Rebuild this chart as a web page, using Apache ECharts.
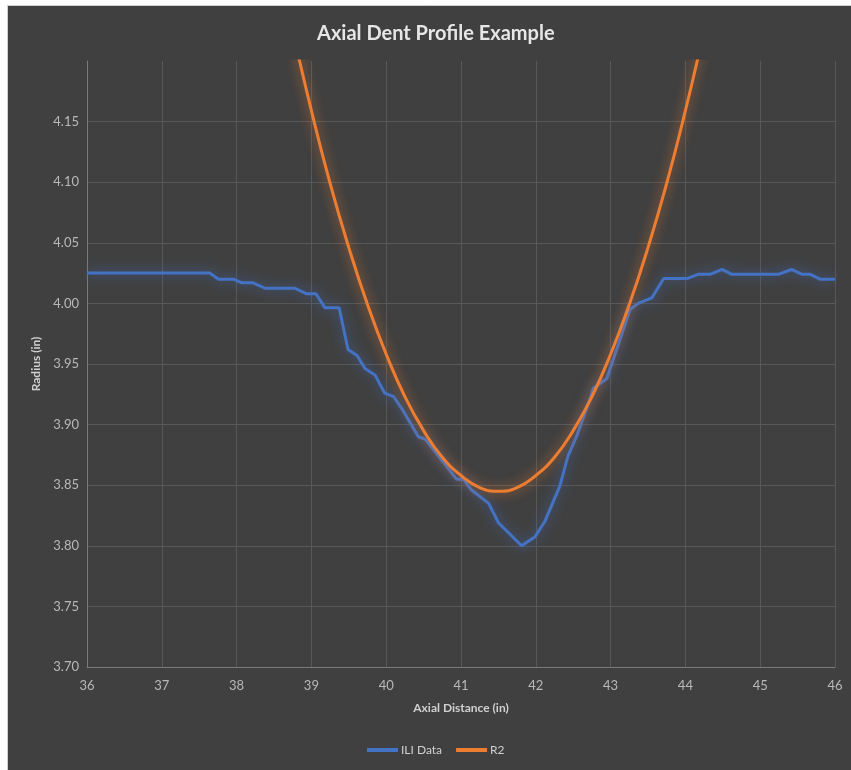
<!DOCTYPE html>
<html>
<head>
<meta charset="utf-8">
<title>Axial Dent Profile Example</title>
<script src="https://cdn.jsdelivr.net/npm/echarts@6/dist/echarts.min.js"></script>
<style>
  html, body { margin: 0; padding: 0; background: #ffffff; }
  #chart { width: 851px; height: 770px; }
</style>
</head>
<body>
<div id="chart"></div>
<script>
// Axis ticks
const xTicks = [36, 37, 38, 39, 40, 41, 42, 43, 44, 45, 46];
const yTicks = [3.70, 3.75, 3.80, 3.85, 3.90, 3.95, 4.00, 4.05, 4.10, 4.15];

// ILI measured profile: axial distance (in) and radius (in)
const iliX = [36.00, 37.64, 37.76, 37.96, 38.07, 38.22, 38.38, 38.78, 38.93, 39.06,
              39.18, 39.37, 39.49, 39.61, 39.72, 39.85, 39.98, 40.10, 40.21, 40.43,
              40.52, 40.94, 41.03, 41.14, 41.37, 41.50, 41.81, 41.99, 42.12, 42.32,
              42.43, 42.55, 42.73, 42.77, 42.95, 43.26, 43.37, 43.55, 43.71, 44.02,
              44.17, 44.33, 44.49, 44.62, 45.24, 45.42, 45.56, 45.67, 45.80, 46.00];
const iliY = [4.025, 4.025, 4.020, 4.020, 4.017, 4.017, 4.0125, 4.0125, 4.008, 4.008,
              3.9965, 3.9965, 3.962, 3.957, 3.946, 3.941, 3.926, 3.923, 3.913, 3.890,
              3.888, 3.855, 3.855, 3.846, 3.835, 3.819, 3.800, 3.8075, 3.820, 3.849,
              3.874, 3.891, 3.922, 3.930, 3.938, 3.995, 4.000, 4.0045, 4.0205, 4.0205,
              4.024, 4.024, 4.028, 4.024, 4.024, 4.028, 4.024, 4.024, 4.020, 4.020];

// R2 fitted curve: axial distance (in) and radius (in)
const r2X = [38.75, 39.00, 39.25, 39.50, 39.75, 40.00, 40.25, 40.50, 40.75, 41.00, 41.25, 41.50,
             41.75, 42.00, 42.25, 42.50, 42.75, 43.00, 43.25, 43.50, 43.75, 44.00, 44.25];
const r2Y = [4.225, 4.159, 4.099, 4.046, 3.999, 3.958, 3.923, 3.895, 3.873, 3.858, 3.848, 3.845,
             3.848, 3.858, 3.873, 3.895, 3.923, 3.958, 3.999, 4.046, 4.099, 4.159, 4.225];

const pairs = (xs, ys) => xs.map((x, i) => [x, ys[i]]);

const FONT = 'Lato, "Open Sans", sans-serif';
const BLUE = '#4472C4';
const ORANGE = '#ED7D31';

const chart = echarts.init(document.getElementById('chart'), null, { renderer: 'canvas' });

chart.setOption({
  backgroundColor: '#ffffff',
  animation: false,
  textStyle: { fontFamily: FONT },
  graphic: [{
    type: 'rect',
    z: -10,
    silent: true,
    shape: { x: 7.5, y: 5.5, width: 850, height: 770 },
    style: { fill: '#404040', stroke: '#cfcfcf', lineWidth: 1 }
  }],
  title: {
    text: 'Axial Dent Profile Example',
    left: 312,
    top: 19,
    textStyle: { color: '#e6e6e6', fontSize: 20, fontWeight: 'bold', fontFamily: FONT }
  },
  legend: {
    bottom: 9,
    left: 362,
    icon: 'rect',
    itemWidth: 31,
    itemHeight: 4,
    itemGap: 14,
    textStyle: { color: '#d0d0d0', fontSize: 12, fontFamily: FONT, padding: [0, 0, 0, -2] },
    data: ['ILI Data', 'R2']
  },
  grid: { left: 87, right: 16, top: 61, bottom: 103, containLabel: false },
  xAxis: {
    type: 'value',
    min: xTicks[0],
    max: xTicks[xTicks.length - 1],
    interval: 1,
    name: 'Axial Distance (in)',
    nameLocation: 'middle',
    nameGap: 35,
    nameTextStyle: { color: '#d0d0d0', fontSize: 12, fontWeight: 'bold', fontFamily: FONT },
    axisLine: { show: true, lineStyle: { color: '#7a7a7a', width: 1 } },
    axisTick: { show: false },
    axisLabel: { color: '#b8b8b8', fontSize: 13, margin: 12, fontFamily: FONT },
    splitLine: { show: true, lineStyle: { color: '#585858', width: 1 } }
  },
  yAxis: {
    type: 'value',
    min: yTicks[0],
    max: 4.20,
    interval: 0.05,
    name: 'Radius (in)',
    nameLocation: 'middle',
    nameGap: 44,
    nameTextStyle: { color: '#d0d0d0', fontSize: 12, fontWeight: 'bold', fontFamily: FONT },
    axisLine: { show: true, lineStyle: { color: '#7a7a7a', width: 1 } },
    axisTick: { show: false },
    axisLabel: {
      color: '#b8b8b8', fontSize: 13, margin: 8, fontFamily: FONT,
      showMaxLabel: false,
      formatter: v => v.toFixed(2)
    },
    splitLine: { show: true, showMaxLine: false, lineStyle: { color: '#585858', width: 1 } }
  },
  series: [
    {
      name: 'ILI Data',
      type: 'line',
      data: pairs(iliX, iliY),
      showSymbol: false,
      symbol: 'none',
      color: BLUE,
      lineStyle: {
        color: BLUE, width: 3,
        shadowBlur: 12, shadowColor: 'rgba(68,114,196,0.8)'
      },
      z: 3
    },
    {
      name: 'R2',
      type: 'line',
      data: pairs(r2X, r2Y),
      smooth: true,
      showSymbol: false,
      symbol: 'none',
      color: ORANGE,
      clip: true,
      lineStyle: {
        color: ORANGE, width: 3,
        shadowBlur: 12, shadowColor: 'rgba(237,125,49,0.8)'
      },
      z: 4
    }
  ]
});
</script>
</body>
</html>
